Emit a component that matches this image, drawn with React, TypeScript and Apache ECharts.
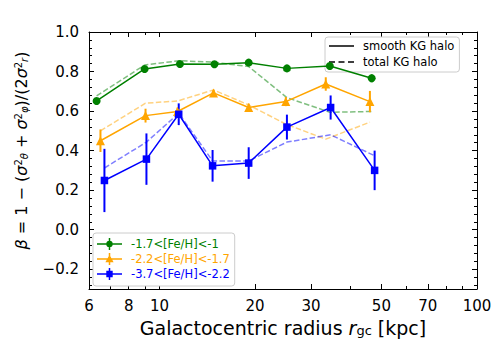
import React, { useEffect, useRef } from "react";
import * as echarts from "echarts";

// ---- data ----
const groupNames = ["-1.7<[Fe/H]<-1", "-2.2<[Fe/H]<-1.7", "-3.7<[Fe/H]<-2.2"];
const groupColors = ["#008000", "#FFA500", "#0000FF"];
const groupSymbols = ["circle", "triangle", "rect"];
const groupSymbolSizes = [8, 9, 7.5];

const greenR = [6.34, 8.98, 11.6, 14.9, 19.1, 25.2, 34.4, 46.6];
const greenSmooth = [0.651, 0.813, 0.838, 0.837, 0.845, 0.816, 0.828, 0.766];
const greenErr = [0.015, 0.012, 0.01, 0.01, 0.01, 0.012, 0.02, 0.02];
const greenTotal = [0.677, 0.833, 0.855, 0.847, 0.825, 0.668, 0.594, 0.598];

const orangeR = [6.52, 9.04, 11.4, 14.8, 19.1, 25.0, 33.4, 46.0];
const orangeSmooth = [0.45, 0.577, 0.598, 0.692, 0.618, 0.648, 0.737, 0.648];
const orangeErr = [0.057, 0.035, 0.02, 0.015, 0.02, 0.023, 0.034, 0.054];
const orangeTotal = [0.5, 0.64, 0.651, 0.707, 0.631, 0.534, 0.458, 0.544];

const blueR = [6.71, 9.1, 11.5, 14.7, 19.1, 25.2, 34.6, 47.6];
const blueSmooth = [0.249, 0.357, 0.584, 0.323, 0.337, 0.519, 0.618, 0.3];
const blueErr = [0.16, 0.13, 0.055, 0.08, 0.08, 0.063, 0.061, 0.1];
const blueTotal = [0.312, 0.443, 0.589, 0.348, 0.348, 0.443, 0.48, 0.374];

const xMajorTicks = [6, 8, 10, 20, 30, 50, 70, 100];
const xMinorTicks = [7, 9, 40, 60, 80, 90];
const yMajorTicks = [-0.2, 0, 0.2, 0.4, 0.6, 0.8, 1.0];
const yMinorTicks = [-0.28, -0.24, -0.16, -0.12, -0.08, -0.04, 0.04, 0.08, 0.12, 0.16, 0.24, 0.28, 0.32, 0.36, 0.44, 0.48, 0.52, 0.56, 0.64, 0.68, 0.72, 0.76, 0.84, 0.88, 0.92, 0.96];

const xMin = 6;
const xMax = 100;
const yMin = -0.3;
const yMax = 1.0;

const styleNames = ["smooth KG halo", "total KG halo"];

const LOG = (v: number) => Math.log10(v);
const FONT = "DejaVu Sans";

const legendIcons = [
  "path://M0,5.25 H25 V6.75 H0 Z M11.75,0 H13.25 V12 H11.75 Z M9.3,6 A3.2,3.2 0 1,1 15.7,6 A3.2,3.2 0 1,1 9.3,6 Z",
  "path://M0,5.25 H25 V6.75 H0 Z M11.75,0 H13.25 V12 H11.75 Z M12.5,1.8 L16.6,9.2 L8.4,9.2 Z",
  "path://M0,5.25 H25 V6.75 H0 Z M11.75,0 H13.25 V12 H11.75 Z M9.3,2.8 H15.7 V9.2 H9.3 Z",
];
const styleIcons = [
  "path://M0,0 H25 V1.5 H0 Z",
  "path://M0,0 H6 V1.5 H0 Z M9.5,0 H15.5 V1.5 H9.5 Z M19,0 H25 V1.5 H19 Z",
];

const visibleLine = { show: true, onZero: false, lineStyle: { color: "#000", width: 1 } };
const hiddenLine = { show: false, onZero: false };

export default function App() {
  const ref = useRef<HTMLDivElement>(null);

  useEffect(() => {
    if (!ref.current) return;
    const chart = echarts.init(ref.current, undefined, { renderer: "svg" });

    const groups = [
      { r: greenR, smooth: greenSmooth, err: greenErr, total: greenTotal },
      { r: orangeR, smooth: orangeSmooth, err: orangeErr, total: orangeTotal },
      { r: blueR, smooth: blueSmooth, err: blueErr, total: blueTotal },
    ];

    const series: any[] = [];
    groups.forEach((g, gi) => {
      const color = groupColors[gi];
      series.push({
        name: groupNames[gi] + " total",
        type: "line",
        data: g.r.map((r, i) => [LOG(r), g.total[i]]),
        symbol: "none",
        lineStyle: { color, width: 1.5, type: [5.5, 2.4], opacity: 0.5 },
        itemStyle: { color },
        z: 2,
        silent: true,
      });
      series.push({
        name: groupNames[gi] + " err",
        type: "custom",
        data: g.r.map((r, i) => [LOG(r), g.smooth[i] - g.err[i], g.smooth[i] + g.err[i]]),
        encode: { x: 0, y: [1, 2] },
        renderItem: (_params: any, api: any) => {
          const p1 = api.coord([api.value(0), api.value(1)]);
          const p2 = api.coord([api.value(0), api.value(2)]);
          return {
            type: "line",
            shape: { x1: p1[0], y1: p1[1], x2: p2[0], y2: p2[1] },
            style: { stroke: color, lineWidth: 2 },
          };
        },
        z: 3,
        silent: true,
      });
      series.push({
        name: groupNames[gi],
        type: "line",
        data: g.r.map((r, i) => [LOG(r), g.smooth[i]]),
        symbol: groupSymbols[gi],
        symbolSize: groupSymbolSizes[gi],
        showSymbol: true,
        lineStyle: { color, width: 1.5 },
        itemStyle: { color, borderWidth: 0 },
        z: 4,
        silent: true,
      });
    });
    styleNames.forEach((n) => {
      series.push({
        name: n,
        type: "line",
        data: [],
        symbol: "none",
        lineStyle: { color: "#000" },
        itemStyle: { color: "#000" },
      });
    });

    const xTickLabel = (v: number) => String(Math.round(Math.pow(10, v)));
    const yTickLabel = (v: number) => v.toFixed(1).replace("-", "\u2212");

    const xBase = { type: "value", min: LOG(xMin), max: LOG(xMax), splitLine: { show: false } };
    const yBase = { type: "value", min: yMin, max: yMax, splitLine: { show: false } };
    const tick = (len: number, vals: number[]) => ({
      show: true,
      inside: true,
      length: len,
      customValues: vals,
      lineStyle: { color: "#000", width: 1 },
    });

    const option: any = {
      animation: false,
      textStyle: { fontFamily: FONT },
      grid: { left: 89, right: 24, top: 32, bottom: 64 },
      xAxis: [
        {
          ...xBase,
          position: "bottom",
          axisLine: visibleLine,
          axisTick: tick(5, xMajorTicks.map(LOG)),
          axisLabel: { customValues: xMajorTicks.map(LOG), formatter: xTickLabel, fontSize: 15, color: "#000", margin: 9, fontFamily: FONT },
          name: "Galactocentric radius {it|r}{sub|gc} [kpc]",
          nameLocation: "middle",
          nameGap: 29,
          nameTextStyle: {
            fontSize: 19,
            color: "#000",
            fontFamily: FONT,
            rich: {
              it: { fontSize: 19, fontStyle: "italic", color: "#000", fontFamily: FONT },
              sub: { fontSize: 13, color: "#000", fontFamily: FONT, verticalAlign: "bottom" },
            },
          },
        },
        { ...xBase, position: "bottom", axisLine: hiddenLine, axisTick: tick(3, xMinorTicks.map(LOG)), axisLabel: { show: false } },
        { ...xBase, position: "top", axisLine: visibleLine, axisTick: tick(5, xMajorTicks.map(LOG)), axisLabel: { show: false } },
        { ...xBase, position: "top", axisLine: hiddenLine, axisTick: tick(3, xMinorTicks.map(LOG)), axisLabel: { show: false } },
      ],
      yAxis: [
        {
          ...yBase,
          position: "left",
          axisLine: visibleLine,
          axisTick: tick(5, yMajorTicks),
          axisLabel: { customValues: yMajorTicks, formatter: yTickLabel, fontSize: 15, color: "#000", margin: 10, fontFamily: FONT },
          name: "{it|β} = 1 − ({it|σ}{sup|2}{sub|θ} + {it|σ}{sup|2}{sub|φ})/(2{it|σ}{sup|2}{sub|r})",
          nameLocation: "middle",
          nameGap: 60,
          nameRotate: 90,
          nameTextStyle: {
            fontSize: 16,
            color: "#000",
            fontFamily: FONT,
            padding: [0, 0, 0, 20],
            rich: {
              it: { fontSize: 16, fontStyle: "italic", color: "#000", fontFamily: FONT },
              sup: { fontSize: 10, color: "#000", fontFamily: FONT, verticalAlign: "top" },
              sub: { fontSize: 10, fontStyle: "italic", color: "#000", fontFamily: FONT, verticalAlign: "bottom" },
            },
          },
        },
        { ...yBase, position: "left", axisLine: hiddenLine, axisTick: tick(3, yMinorTicks), axisLabel: { show: false } },
        { ...yBase, position: "right", axisLine: visibleLine, axisTick: tick(5, yMajorTicks), axisLabel: { show: false } },
        { ...yBase, position: "right", axisLine: hiddenLine, axisTick: tick(3, yMinorTicks), axisLabel: { show: false } },
      ],
      legend: [
        {
          orient: "vertical",
          left: 325,
          top: 37,
          data: styleNames.map((n, i) => ({ name: n, icon: styleIcons[i] })),
          itemWidth: 25,
          itemHeight: 14,
          itemGap: 4,
          padding: [3, 5, 4, 4],
          backgroundColor: "#fff",
          borderColor: "#ccc",
          borderWidth: 1,
          borderRadius: 3,
          selectedMode: false,
          itemStyle: { borderWidth: 0 },
          textStyle: { fontSize: 11.5, color: "#000", fontFamily: FONT, padding: [0, 0, 0, 4] },
        },
        {
          orient: "vertical",
          left: 93,
          top: 233,
          data: groupNames.map((n, i) => ({ name: n, icon: legendIcons[i], textStyle: { color: groupColors[i] } })),
          itemWidth: 25,
          itemHeight: 12,
          itemGap: 3,
          padding: [5, 5, 6, 4],
          backgroundColor: "#fff",
          borderColor: "#ccc",
          borderWidth: 1,
          borderRadius: 3,
          selectedMode: false,
          itemStyle: { borderWidth: 0 },
          textStyle: { fontSize: 11.5, fontFamily: FONT, padding: [0, 0, 0, 4] },
        },
      ],
      series,
    };

    chart.setOption(option);
    return () => chart.dispose();
  }, []);

  return <div ref={ref} style={{ width: 501, height: 353, position: "absolute", left: 0, top: 0, background: "#fff" }} />;
}
